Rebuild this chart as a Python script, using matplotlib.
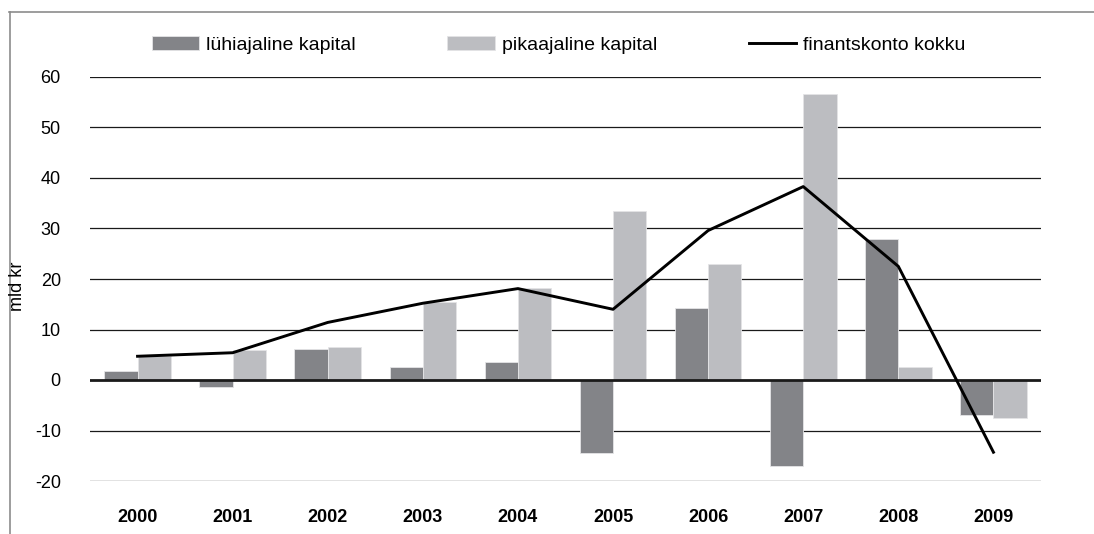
import numpy as np
import matplotlib.pyplot as plt
from matplotlib.lines import Line2D

plt.rcParams['font.family'] = ['Liberation Sans', 'DejaVu Sans']
plt.rcParams['axes.unicode_minus'] = False

years = ['2000', '2001', '2002', '2003', '2004', '2005', '2006', '2007', '2008', '2009']
luhiajaline = [1.8, -1.3, 6.2, 2.6, 3.6, -14.4, 14.3, -17.1, 28.0, -7.0]
pikaajaline = [4.8, 5.9, 6.6, 15.4, 18.3, 33.4, 23.0, 56.6, 2.6, -7.6]
kokku = [4.7, 5.4, 11.4, 15.2, 18.1, 14.0, 29.6, 38.3, 22.5, -14.3]

dark = '#838488'
light = '#bcbdc1'

fig = plt.figure(figsize=(10.94, 5.34), dpi=100)
ax = fig.add_axes([90 / 1094, 1 - 481 / 534, (1041 - 90) / 1094, (481 - 77) / 534])

x = np.arange(len(years))
w = 0.35
b1 = ax.bar(x - w / 2, luhiajaline, w, color=dark, edgecolor='#e4e4e6', linewidth=0.6,
            label='lühiajaline kapital', zorder=3)
b2 = ax.bar(x + w / 2, pikaajaline, w, color=light, edgecolor='#e4e4e6', linewidth=0.6,
            label='pikaajaline kapital', zorder=3)
ln, = ax.plot(x, kokku, color='black', lw=2.1, label='finantskonto kokku', zorder=5)

ax.set_xlim(-0.5, 9.5)
ax.set_ylim(-20, 60)
ax.set_yticks(range(-20, 61, 10))
for v in range(-20, 61, 10):
    if v != 0:
        ax.axhline(v, color='#1a1a1a', lw=0.9, zorder=1)
ax.axhline(0, color='#1a1a1a', lw=2.0, zorder=4)

ax.set_xticks(x)
ax.set_xticklabels(years, fontweight='bold', fontsize=13)
ax.tick_params(axis='x', length=0, pad=20)
ax.tick_params(axis='y', length=0, pad=21, labelsize=13)
for s in ax.spines.values():
    s.set_visible(False)

fig.text(17 / 1094, 1 - 286 / 534, 'mld kr', rotation=90, ha='center', va='center', fontsize=13)

ax.legend([b1, b2, ln], ['lühiajaline kapital', 'pikaajaline kapital', 'finantskonto kokku'],
          ncol=3, loc='center left', bbox_to_anchor=(54 / 951, 1 + 32 / 404),
          frameon=False, fontsize=14, handlelength=2.45, handleheight=0.75,
          handletextpad=0.36, columnspacing=4.7, borderaxespad=0)

# frame around the chart
fig.add_artist(Line2D([9 / 1094, 1], [1 - 11.5 / 534] * 2, color='#8c8c8c', lw=1.2))
fig.add_artist(Line2D([9.5 / 1094] * 2, [0, 1 - 11.5 / 534], color='#8c8c8c', lw=1.2))

fig.savefig('out.png', dpi=100)
